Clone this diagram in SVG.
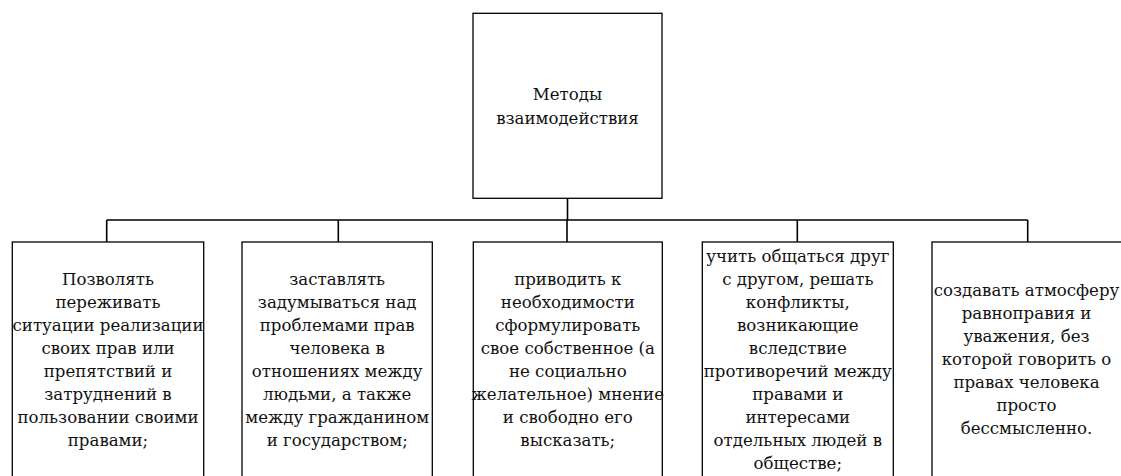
<svg xmlns="http://www.w3.org/2000/svg" width="1121" height="476" viewBox="0 0 1121 476">
<style>
.box{fill:#fff;stroke:#000;stroke-width:1.3}
.conn{fill:none;stroke:#000;stroke-width:1.6}
.t{font-family:'DejaVu Serif',serif;font-size:16.6px;fill:#111;text-anchor:middle}
</style>
<rect width="1121" height="476" fill="#fff"/>
<g id="connectors">
<path class="conn" d="M567.5 198 V220 M106.7 220 H1027.7 M106.7 220 V242 M338.3 220 V242 M567 220 V242 M797.3 220 V242 M1027.7 220 V242"/>
</g>
<g id="root">
<rect class="box" x="473" y="13.3" width="189" height="185"/>
<text class="t" x="567.5" y="100">Методы</text>
<text class="t" x="567.5" y="124">взаимодействия</text>
</g>
<g id="n1">
<rect class="box" x="12.3" y="242" width="191.4" height="236"/>
<text class="t" y="284.5"><tspan x="108" dy="0">Позволять</tspan><tspan x="108" dy="23">переживать</tspan><tspan x="108" dy="23">ситуации реализации</tspan><tspan x="108" dy="23">своих прав или</tspan><tspan x="108" dy="23">препятствий и</tspan><tspan x="108" dy="23">затруднений в</tspan><tspan x="108" dy="23">пользовании своими</tspan><tspan x="108" dy="23">правами;</tspan></text>
</g>
<g id="n2">
<rect class="box" x="242" y="242" width="190.3" height="236"/>
<text class="t" y="284.5"><tspan x="337.2" dy="0">заставлять</tspan><tspan x="337.2" dy="23">задумываться над</tspan><tspan x="337.2" dy="23">проблемами прав</tspan><tspan x="337.2" dy="23">человека в</tspan><tspan x="337.2" dy="23">отношениях между</tspan><tspan x="337.2" dy="23">людьми, а также</tspan><tspan x="337.2" dy="23">между гражданином</tspan><tspan x="337.2" dy="23">и государством;</tspan></text>
</g>
<g id="n3">
<rect class="box" x="473.3" y="242" width="189" height="236"/>
<text class="t" y="284.5"><tspan x="567.8" dy="0">приводить к</tspan><tspan x="567.8" dy="23">необходимости</tspan><tspan x="567.8" dy="23">сформулировать</tspan><tspan x="567.8" dy="23">свое собственное (а</tspan><tspan x="567.8" dy="23">не социально</tspan><tspan x="567.8" dy="23">желательное) мнение</tspan><tspan x="567.8" dy="23">и свободно его</tspan><tspan x="567.8" dy="23">высказать;</tspan></text>
</g>
<g id="n4">
<rect class="box" x="702.3" y="242" width="191" height="236"/>
<text class="t" y="261.5"><tspan x="797.8" dy="0">учить общаться друг</tspan><tspan x="797.8" dy="23">с другом, решать</tspan><tspan x="797.8" dy="23">конфликты,</tspan><tspan x="797.8" dy="23">возникающие</tspan><tspan x="797.8" dy="23">вследствие</tspan><tspan x="797.8" dy="23">противоречий между</tspan><tspan x="797.8" dy="23">правами и</tspan><tspan x="797.8" dy="23">интересами</tspan><tspan x="797.8" dy="23">отдельных людей в</tspan><tspan x="797.8" dy="23">обществе;</tspan></text>
</g>
<g id="n5">
<rect class="box" x="932" y="242" width="192" height="236"/>
<text class="t" y="296"><tspan x="1026.5" dy="0">создавать атмосферу</tspan><tspan x="1026.5" dy="23">равноправия и</tspan><tspan x="1026.5" dy="23">уважения, без</tspan><tspan x="1026.5" dy="23">которой говорить о</tspan><tspan x="1026.5" dy="23">правах человека</tspan><tspan x="1026.5" dy="23">просто</tspan><tspan x="1026.5" dy="23">бессмысленно.</tspan></text>
</g>
</svg>
